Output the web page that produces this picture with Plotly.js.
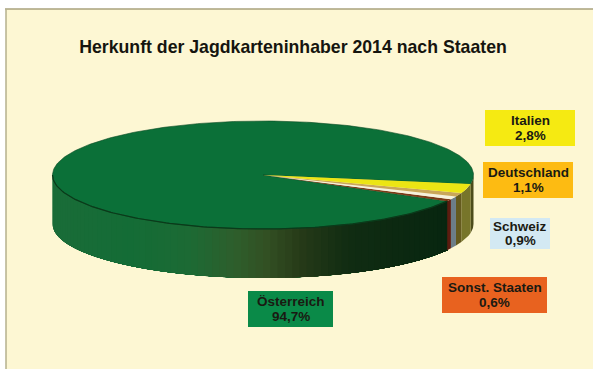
<!DOCTYPE html>
<html><head><meta charset="utf-8">
<script src="https://cdn.plot.ly/plotly-3.0.1.min.js"></script>
<style>html,body{margin:0;padding:0;background:#fff}#c{width:593px;height:369px}</style>
</head><body><div id="c"></div>
<script>
// Data
const titleText = "Herkunft der Jagdkarteninhaber 2014 nach Staaten";
const categories = ["Italien", "Deutschland", "Schweiz", "Sonst. Staaten", "Österreich"];
const shares = [2.8, 1.1, 0.9, 0.6, 94.7];
const topColors = ["#ece514", "#c9a65a", "#f5f1dc", "#7a3a18", "#0b7038"];
const sideColors = ["#77752a", "#645a1e", "#6c7d88", "#5c1c10", null];
const boxColors = ["#f5ea12", "#fdbb12", "#d3e9f3", "#e8621f", "#0a8a48"];
const boxCenters = [[530, 128], [528, 180], [520, 233.5], [494.5, 295], [290.5, 309]];
const boxSizes = [[90, 36], [90, 36], [60, 31], [105, 36], [85, 36]];

// Pie geometry (pixel scale on hidden axes)
const cx = 263, cy = 175, rx = 210.5, ry = 54, depth = 49, startDeg = 9.5;
const pt = (deg) => [cx + rx * Math.cos(deg * Math.PI / 180), cy + ry * Math.sin(deg * Math.PI / 180)];
const arc = (a, b, off = 0) => {
  const n = Math.max(2, Math.ceil(Math.abs(b - a) / 1)), xs = [], ys = [];
  for (let i = 0; i <= n; i++) { const p = pt(a + (b - a) * i / n); xs.push(p[0]); ys.push(p[1] + off); }
  return [xs, ys];
};
const poly = (xs, ys, color, w = 0, lc = null) => ({
  type: "scatter", mode: "lines", x: xs, y: ys, fill: "toself", fillcolor: color,
  line: { color: lc || color, width: w }, hoverinfo: "skip", showlegend: false
});

// Side shading of the large slice, by horizontal position
const shadeX = [52, 130, 190, 235, 270, 300, 350, 445, 480];
const shadeRGB = [[26, 108, 56], [20, 108, 54], [28, 106, 52], [46, 94, 44], [50, 78, 34], [38, 58, 24], [16, 44, 18], [8, 38, 16], [8, 38, 16]];
const shade = (x) => {
  let i = 0; while (i < shadeX.length - 2 && x > shadeX[i + 1]) i++;
  const f = Math.min(1, Math.max(0, (x - shadeX[i]) / (shadeX[i + 1] - shadeX[i])));
  return "rgb(" + shadeRGB[i].map((v, k) => Math.round(v + (shadeRGB[i + 1][k] - v) * f)).join(",") + ")";
};

const traces = [];
let a = startDeg; const spans = [];
shares.forEach((s) => { spans.push([a, a + s * 3.6]); a += s * 3.6; });

// Side wall: each band overlaps the next one so no seams show
const sideQuad = (a0, a1, col) => {
  const [x0, y0] = arc(a0, a1), [x1, y1] = arc(a0, a1, depth);
  traces.push(poly(x0.concat(x1.slice().reverse()), y0.concat(y1.slice().reverse()), col));
};
const greenStart = spans[4][0];
for (let d = 180; d > greenStart; d -= 2) {
  sideQuad(greenStart, d, shade(pt(d - 1)[0]));
}
sideQuad(0, startDeg, "#4c4c1a");
spans.forEach((sp, i) => { if (sideColors[i]) sideQuad(sp[0], sp[1], sideColors[i]); });

// Top face
spans.slice().reverse().forEach((sp, j) => {
  const i = spans.length - 1 - j;
  const [xs, ys] = arc(sp[0], sp[1]);
  traces.push(poly([cx].concat(xs, [cx]), [cy].concat(ys, [cy]), topColors[i], i === 4 ? 0.6 : 0, i === 4 ? "#0a4a24" : null));
});
// Dark rim of the top face
const rim = arc(spans[3][1], 180 + 0);
traces.push({ type: "scatter", mode: "lines", x: rim[0], y: rim[1], line: { color: "#0b3a1a", width: 1.2 }, hoverinfo: "skip", showlegend: false });

const pct = (v) => v.toFixed(1).replace(".", ",") + "%";
const boxes = categories.map((c, i) => ({
  type: "rect", layer: "below", xref: "x", yref: "y",
  x0: boxCenters[i][0] - boxSizes[i][0] / 2, x1: boxCenters[i][0] + boxSizes[i][0] / 2,
  y0: boxCenters[i][1] - boxSizes[i][1] / 2, y1: boxCenters[i][1] + boxSizes[i][1] / 2,
  fillcolor: boxColors[i], line: { width: 0 }
}));
const labelFont = { family: "Liberation Sans", size: 13.5, color: "#1a1a12" };
const annotations = [];
categories.forEach((c, i) => {
  [[c, -7.2], [pct(shares[i]), 7.2]].forEach(([t, dy]) => annotations.push({
    xref: "x", yref: "y", x: boxCenters[i][0], y: boxCenters[i][1] + dy, showarrow: false,
    text: "<b>" + t + "</b>", font: labelFont, borderpad: 0
  }));
});

Plotly.newPlot("c", traces, {
  width: 593, height: 369, margin: { l: 0, r: 0, t: 0, b: 0 },
  paper_bgcolor: "#ffffff", plot_bgcolor: "rgba(0,0,0,0)", showlegend: false,
  xaxis: { range: [0, 593], visible: false, fixedrange: true },
  yaxis: { range: [369, 0], visible: false, fixedrange: true },
  title: { text: "<b>" + titleText + "</b>", x: 293 / 593, y: 1 - 47 / 369, xanchor: "center", yanchor: "middle",
    font: { family: "Liberation Sans", size: 17.7, color: "#15150f" } },
  shapes: [
    { type: "rect", layer: "below", xref: "x", yref: "y", x0: 6, x1: 593, y0: 9, y1: 369, fillcolor: "#fdf7d3", line: { width: 0 } },
    { type: "line", layer: "below", xref: "x", yref: "y", x0: 5, x1: 593, y0: 9, y1: 9, line: { color: "#a8a27c", width: 1.5 } },
    { type: "line", layer: "below", xref: "x", yref: "y", x0: 6, x1: 6, y0: 9, y1: 369, line: { color: "#b5b08c", width: 1.5 } }
  ].concat(boxes),
  annotations
}, { displayModeBar: false, staticPlot: true });
</script></body></html>
